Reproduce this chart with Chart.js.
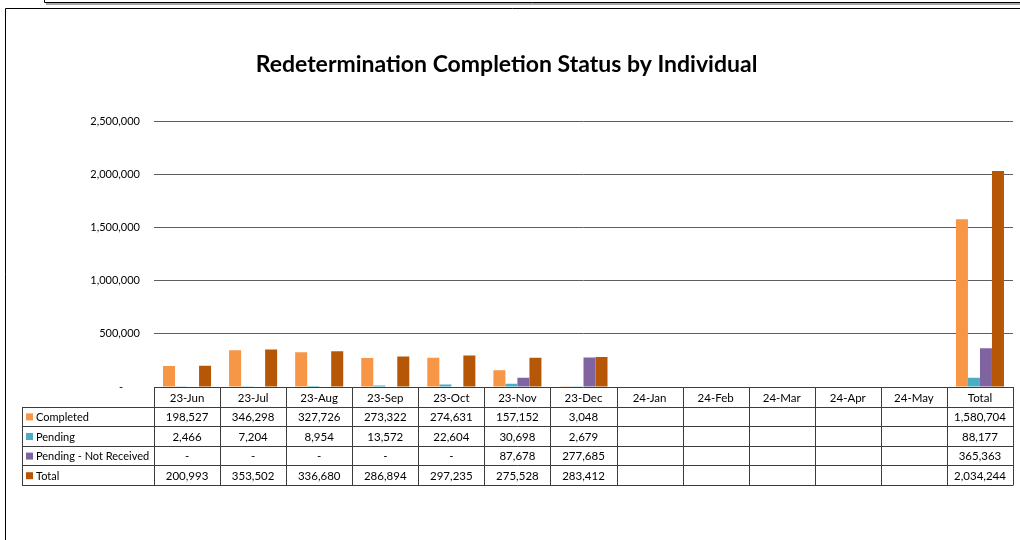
<!DOCTYPE html>
<html>
<head>
<meta charset="utf-8">
<script src="https://cdn.jsdelivr.net/npm/chart.js@4.4.1/dist/chart.umd.min.js"></script>
<style>
  html, body { margin: 0; padding: 0; background: #fff; }
  #wrap { position: relative; width: 1020px; height: 540px; }
</style>
</head>
<body>
<div id="wrap"><canvas id="chart" width="1020" height="540"></canvas></div>
<script>
// categories and series
var months = ['23-Jun', '23-Jul', '23-Aug', '23-Sep', '23-Oct', '23-Nov', '23-Dec',
              '24-Jan', '24-Feb', '24-Mar', '24-Apr', '24-May', 'Total'];
var completed = [198527, 346298, 327726, 273322, 274631, 157152, 3048, null, null, null, null, null, 1580704];
var pending = [2466, 7204, 8954, 13572, 22604, 30698, 2679, null, null, null, null, null, 88177];
var notReceived = [0, 0, 0, 0, 0, 87678, 277685, null, null, null, null, null, 365363];
var total = [200993, 353502, 336680, 286894, 297235, 275528, 283412, null, null, null, null, null, 2034244];
var yTicks = [0, 500000, 1000000, 1500000, 2000000, 2500000];

var font = 'Lato, "Open Sans", sans-serif';

function fmt(v) {
  if (v === null) return '';
  if (v === 0) return '-';
  return v.toLocaleString('en-US');
}

// data table drawn under the plot, lined up with the x scale
var tablePlugin = {
  id: 'dataTable',
  beforeDraw: function(chart) {
    var ctx = chart.ctx;
    ctx.save();
    ctx.fillStyle = '#fff';
    ctx.fillRect(0, 0, chart.width, chart.height);
    // outer frames
    ctx.strokeStyle = '#000';
    ctx.lineWidth = 1;
    ctx.beginPath();
    ctx.moveTo(5.5, 540); ctx.lineTo(5.5, 8.5); ctx.lineTo(1020, 8.5);
    ctx.stroke();
    ctx.fillStyle = '#a6a6a6';
    ctx.fillRect(46, 3, 974, 2);
    ctx.beginPath();
    ctx.moveTo(44.5, 0); ctx.lineTo(44.5, 2.5); ctx.lineTo(1020, 2.5);
    ctx.stroke();
    ctx.restore();
  },
  afterDraw: function(chart) {
    var ctx = chart.ctx;
    var x = chart.scales.x;
    var area = chart.chartArea;
    var colW = (area.right - area.left) / months.length;
    var top = area.bottom;
    var rowH = 19.6;
    var labelLeft = 22;
    var rows = chart.data.datasets;
    ctx.save();
    ctx.strokeStyle = '#3c3c3c';
    ctx.lineWidth = 1;
    ctx.font = '11.5px ' + font;
    ctx.fillStyle = '#000';
    ctx.textBaseline = 'middle';
    var bottom = top + rowH * (rows.length + 1);
    ctx.beginPath();
    // horizontal lines
    ctx.moveTo(area.left, Math.round(top) + 0.5);
    ctx.lineTo(area.right, Math.round(top) + 0.5);
    for (var r = 1; r <= rows.length + 1; r++) {
      var yy = Math.round(top + r * rowH) + 0.5;
      ctx.moveTo(labelLeft, yy);
      ctx.lineTo(area.right, yy);
    }
    // vertical lines
    ctx.moveTo(labelLeft + 0.5, Math.round(top + rowH));
    ctx.lineTo(labelLeft + 0.5, Math.round(bottom) + 0.5);
    for (var c = 0; c <= months.length; c++) {
      var xx = Math.round(area.left + c * colW) + 0.5;
      ctx.moveTo(xx, Math.round(top));
      ctx.lineTo(xx, Math.round(bottom) + 0.5);
    }
    ctx.stroke();

    // header
    ctx.textAlign = 'center';
    months.forEach(function(m, i) {
      ctx.fillText(m, x.getPixelForValue(i), top + rowH / 2 + 1);
    });
    // rows
    rows.forEach(function(ds, r) {
      var cy = top + rowH * (r + 1) + rowH / 2 + 1;
      ctx.fillStyle = ds.backgroundColor;
      ctx.fillRect(labelLeft + 4, cy - 4, 7, 7);
      ctx.fillStyle = '#000';
      ctx.textAlign = 'left';
      ctx.font = '11px ' + font;
      ctx.fillText(ds.label, labelLeft + 14, cy);
      ctx.font = '11.5px ' + font;
      ctx.textAlign = 'center';
      ds.data.forEach(function(v, i) {
        ctx.fillText(fmt(v), x.getPixelForValue(i), cy);
      });
    });
    ctx.restore();
  }
};

var ctx = document.getElementById('chart').getContext('2d');
var chart = new Chart(ctx, {
  type: 'bar',
  data: {
    labels: months,
    datasets: [
      { label: 'Completed', data: completed, backgroundColor: '#F79646' },
      { label: 'Pending', data: pending, backgroundColor: '#4BACC6' },
      { label: 'Pending - Not Received', data: notReceived, backgroundColor: '#8064A2' },
      { label: 'Total', data: total, backgroundColor: '#B65708' }
    ]
  },
  options: {
    responsive: false,
    animation: false,
    layout: { padding: { left: 0, right: 7, top: 0, bottom: 153 } },
    datasets: { bar: { categoryPercentage: 0.727, barPercentage: 1.0 } },
    plugins: {
      legend: { display: false },
      tooltip: { enabled: false },
      title: {
        display: true,
        text: 'Redetermination Completion Status by Individual',
        color: '#000',
        font: { family: font, size: 23, weight: 'bold' },
        padding: { top: 51, bottom: 43 }
      }
    },
    scales: {
      x: { display: false, offset: true },
      y: {
        min: 0,
        max: 2500000,
        afterFit: function(s) { s.width = 154; },
        afterBuildTicks: function(s) { s.ticks = yTicks.map(function(v) { return { value: v }; }); },
        border: { display: false },
        grid: {
          drawTicks: false,
          color: function(c) { return c.tick.value === 0 ? 'rgba(0,0,0,0)' : '#5e5e5e'; }
        },
        ticks: {
          padding: 14,
          color: '#000',
          font: { family: font, size: 11 },
          callback: function(v) { return v === 0 ? '-      ' : v.toLocaleString('en-US'); }
        }
      }
    }
  },
  plugins: [tablePlugin]
});
</script>
</body>
</html>
